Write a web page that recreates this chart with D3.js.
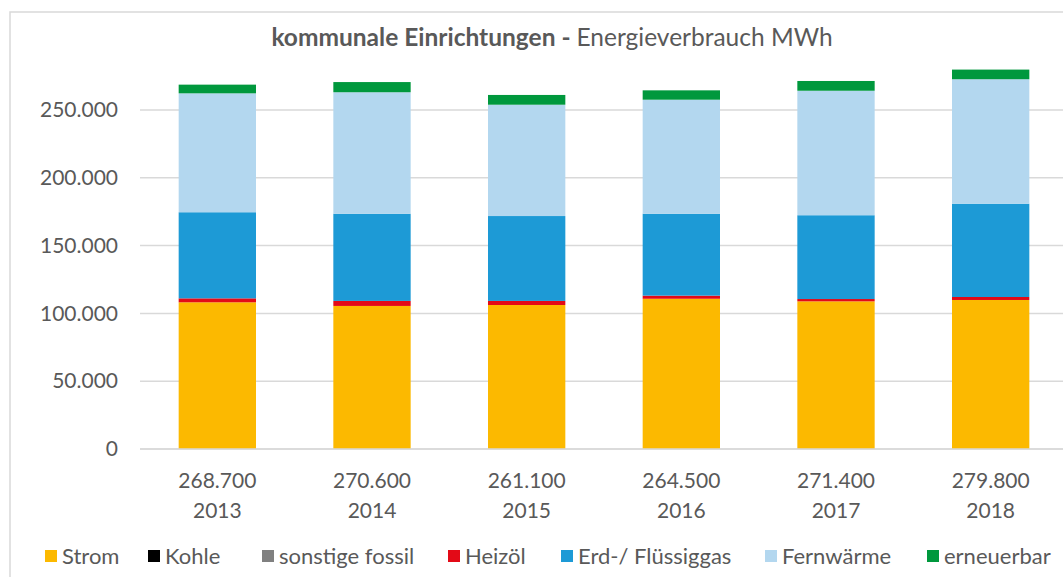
<!DOCTYPE html>
<html><head><meta charset="utf-8">
<script src="https://cdn.jsdelivr.net/npm/d3@7"></script>
<style>
html,body{margin:0;padding:0;background:#fff;}
svg{display:block;font-family:Lato, "Open Sans", sans-serif;}
</style></head>
<body>
<svg id="c" width="1063" height="577"></svg>
<script>
const years = ["2013","2014","2015","2016","2017","2018"];
const totals = [268700, 270600, 261100, 264500, 271400, 279800];
const seriesNames = ["Strom","Kohle","sonstige fossil","Heizöl","Erd-/ Flüssiggas","Fernwärme","erneuerbar"];
const seriesColors = ["#FCB900","#000000","#808080","#E30A17","#1D9AD6","#B3D7EF","#00983D"];
const strom      = [108200, 105500, 106200, 110800, 108900, 109900];
const kohle      = [0, 0, 0, 0, 0, 0];
const sonstige   = [0, 0, 0, 0, 0, 0];
const heizoel    = [2900, 3700, 3000, 2300, 1700, 2200];
const erdgas     = [63500, 64300, 62600, 60400, 61800, 68800];
const fernwaerme = [87700, 89600, 82100, 84100, 91800, 91800];
const erneuerbar = [6400, 7500, 7200, 6900, 7200, 7100];
const yTicks = [0, 50000, 100000, 150000, 200000, 250000];

const seriesValues = [strom, kohle, sonstige, heizoel, erdgas, fernwaerme, erneuerbar];
const table = years.map((y, i) => {
  const row = {year: y};
  seriesNames.forEach((n, k) => row[n] = seriesValues[k][i]);
  return row;
});

const svg = d3.select("#c");
const loc = d3.formatLocale({decimal: ",", thousands: ".", grouping: [3], currency: ["", ""]});
const fmt = loc.format(",d");
const textColor = "#595959";

// chart border
svg.append("rect").attr("x", 10).attr("y", 12).attr("width", 1080).attr("height", 600)
  .attr("fill", "none").attr("stroke", "#d9d9d9").attr("stroke-width", 1.5);

const x = d3.scaleBand().domain(years).range([140, 1068]).paddingInner(0.5).paddingOuter(0.25);
const y = d3.scaleLinear().domain([0, 250000]).range([449, 110]);

// gridlines
svg.append("g").selectAll("line").data(yTicks).join("line")
  .attr("x1", 140).attr("x2", 1068)
  .attr("y1", d => y(d)).attr("y2", d => y(d))
  .attr("stroke", "#d9d9d9").attr("stroke-width", 1.5);

// y axis labels
const yAxis = d3.axisLeft(y).tickValues(yTicks).tickFormat(d => d === 0 ? "0" : fmt(d)).tickSize(0).tickPadding(22);
const yg = svg.append("g").attr("transform", "translate(140,0)").call(yAxis);
yg.select(".domain").remove();
yg.selectAll("text").attr("fill", textColor).style("font-size", "21px").style("font-family", "Lato");

// stacked bars
const stack = d3.stack().keys(seriesNames);
const stacked = stack(table);
svg.append("g").selectAll("g").data(stacked).join("g")
  .attr("fill", (d, i) => seriesColors[i])
  .selectAll("rect").data(d => d).join("rect")
  .attr("x", d => x(d.data.year))
  .attr("width", x.bandwidth())
  .attr("y", d => y(d[1]))
  .attr("height", d => Math.max(0, y(d[0]) - y(d[1])));

// x axis line
svg.append("line").attr("x1", 140).attr("x2", 1068).attr("y1", y(0)).attr("y2", y(0))
  .attr("stroke", "#d9d9d9").attr("stroke-width", 1.5);

// x labels (total + year)
const xl = svg.append("g").selectAll("g").data(years).join("g")
  .attr("transform", d => `translate(${x(d) + x.bandwidth() / 2},0)`);
xl.append("text").attr("y", 488).attr("text-anchor", "middle").attr("fill", textColor)
  .style("font-size", "21px").text((d, i) => fmt(totals[i]));
xl.append("text").attr("y", 518).attr("text-anchor", "middle").attr("fill", textColor)
  .style("font-size", "21px").text(d => d);

// title
const t = svg.append("text").attr("x", 552).attr("y", 46).attr("text-anchor", "middle")
  .attr("fill", textColor).style("font-size", "24.5px");
t.append("tspan").attr("font-weight", "bold").text("kommunale Einrichtungen - ");
t.append("tspan").text("Energieverbrauch MWh");

// legend
const legendX = [45, 148, 262, 448, 561, 765, 927];
const lg = svg.append("g").selectAll("g").data(seriesNames).join("g")
  .attr("transform", (d, i) => `translate(${legendX[i]},0)`);
lg.append("rect").attr("x", 0).attr("y", 550).attr("width", 12).attr("height", 12)
  .attr("fill", (d, i) => seriesColors[i]);
lg.append("text").attr("x", 17).attr("y", 564).attr("fill", textColor)
  .style("font-size", "22px").text(d => d);
</script>
</body></html>
